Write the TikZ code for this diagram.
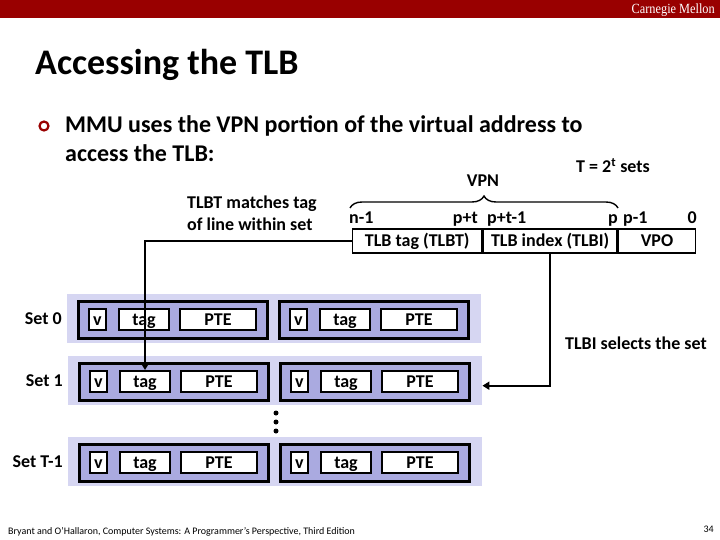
\documentclass[tikz,border=0pt]{standalone}
\usepackage{fontspec}
\setmainfont{Carlito}
\newfontfamily\cmfont[FakeStretch=0.88]{Liberation Serif}
\usetikzlibrary{decorations.pathreplacing,arrows.meta,calc}
\definecolor{cmured}{HTML}{990000}
\definecolor{setbg}{HTML}{D6D6F2}
\definecolor{linebg}{HTML}{AAAAE0}
\newcommand\lblfont{\bfseries\fontsize{18}{20}\selectfont}
\tikzset{
  setbox/.style={fill=setbg, draw=none, minimum width=414pt, minimum height=49pt, inner sep=0pt, anchor=north west},
  linebox/.style={fill=linebg, draw=black, line width=2.6pt, minimum width=189pt, minimum height=37pt, inner sep=0pt, anchor=north west},
  field/.style={fill=white, draw=black, line width=2pt, minimum height=21pt, inner sep=0pt, anchor=north west, font=\lblfont, text height=12pt, text depth=1pt},
  lbl/.style={font=\lblfont, inner sep=0pt},
  addr/.style={draw=black, line width=1.4pt, minimum height=24pt, inner sep=0pt, anchor=west, font=\lblfont, text height=12pt, text depth=1pt},
  conn/.style={draw=black, line width=2.2pt, -{Triangle[length=7pt,width=8pt]}},
  dotn/.style={circle, fill=black, inner sep=0pt, minimum size=5pt},
}
\newcommand\mkline[3]{%
  \node[linebox] (#1) at (#2,#3) {};
  \node[field, minimum width=17pt] (#1v) at (#2+11,#3+8) {v};
  \node[field, minimum width=50pt] (#1t) at (#2+41,#3+8) {tag};
  \node[field, minimum width=76pt] (#1p) at (#2+102,#3+8) {PTE};
}
\newcommand\mkset[4]{%
  \node[setbox] (#1) at (#2,#3) {};
  \mkline{#1a}{#2+10}{#3+6}
  \mkline{#1b}{#2+211}{#3+6}
  \node[lbl, anchor=east, xshift=-5pt] (#1lbl) at (#1.west) {#4};
}
\begin{document}
\begin{tikzpicture}[x=1pt,y=-1pt]
\useasboundingbox (0,0) rectangle (720,540);
% header bar
\fill[cmured] (0,0) rectangle (720,18);
\node[anchor=base east, text=white, inner sep=0pt, font=\cmfont\fontsize{14}{15}\selectfont] (cmu) at (715,13.5) {Carnegie Mellon};
% title
\node[anchor=base west, inner sep=0pt, font=\bfseries\fontsize{36}{40}\selectfont] (title) at (35,75) {Accessing the TLB};
% bullet
\node[circle, draw=cmured, line width=2.2pt, inner sep=0pt, minimum size=9pt] (bul) at (44,126) {};
\node[anchor=base west, inner sep=0pt, font=\bfseries\fontsize{24}{28}\selectfont] (b1) at (65,133) {MMU uses the VPN portion of the virtual address to};
\node[anchor=base west, inner sep=0pt, font=\bfseries\fontsize{24}{28}\selectfont] (b2) at (65,162) {access the TLB:};
% T = 2^t sets
\node[lbl, anchor=base] (tsets) at (613,173) {T = 2\textsuperscript{t} sets};
% VPN brace
\node[lbl, anchor=base] (vpn) at (483,187) {VPN};
\coordinate (brL) at (350,208);
\coordinate (brR) at (618,208);
\draw[line width=1.4pt, decorate, decoration={brace, amplitude=12pt}] (brL) -- (brR);
% bit labels
\node[lbl, anchor=base west] (bn1) at (349,224) {n-1};
\node[lbl, anchor=base east] (bpt) at (478,224) {p+t};
\node[lbl, anchor=base west] (bpt1) at (487,224) {p+t-1};
\node[lbl, anchor=base east] (bp) at (618,224) {p};
\node[lbl, anchor=base west] (bp1) at (623,224) {p-1};
\node[lbl, anchor=base east] (b0) at (697,224) {0};
% address fields
\node[addr, minimum width=129pt] (tlbt) at (352,241) {TLB tag (TLBT)};
\node[addr, minimum width=134pt] (tlbi) at (tlbt.east) {TLB index (TLBI)};
\node[addr, minimum width=77pt] (vpo) at (tlbi.east) {VPO};
% labels
\node[lbl, anchor=base west] (tm1) at (187,208) {TLBT matches tag};
\node[lbl, anchor=base west] (tm2) at (187,230) {of line within set};
\node[lbl, anchor=base west] (ts) at (565,349) {TLBI selects the set};
% sets
\mkset{s0}{67}{294}{Set 0}
\mkset{s1}{68}{356}{Set 1}
\mkset{st}{68}{437}{Set T-1}
% dots
\node[dotn] (d1) at (276,413) {};
\node[dotn] (d2) at (276,422) {};
\node[dotn] (d3) at (276,431) {};
% connectors
\draw[conn] (tlbt.west) -| (s1at.north);
\draw[conn] (tlbi.south) |- ([yshift=-5pt]s1.east);
% footer
\node[anchor=base west, inner sep=0pt, font=\fontsize{10}{11}\selectfont] (foot) at (8,534) {Bryant and O'Hallaron, Computer Systems: A Programmer's Perspective, Third Edition};
\node[anchor=base east, inner sep=0pt, font=\fontsize{10}{11}\selectfont] (pg) at (714,532) {34};
\end{tikzpicture}
\end{document}
